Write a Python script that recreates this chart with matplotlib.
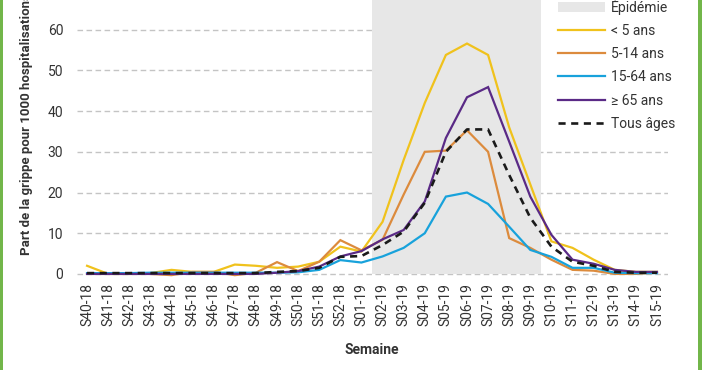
import matplotlib
matplotlib.use("Agg")
import matplotlib.pyplot as plt
from matplotlib.patches import Patch, Rectangle
from matplotlib.lines import Line2D

plt.rcParams["font.family"] = ["Roboto", "DejaVu Sans"]

# --- data ---
weeks = [f"S{w}-18" for w in range(40, 53)] + [f"S{w:02d}-19" for w in range(1, 16)]
epi_start, epi_end = "S02-19", "S09-19"

moins5 = [2.0, 0.0, 0.0, 0.2, 1.0, 0.5, 0.5, 2.3, 2.0, 1.5, 1.8, 3.0, 6.7, 5.5,
          12.8, 28.0, 42.0, 53.8, 56.6, 53.8, 36.0, 22.0, 8.0, 6.4, 3.5, 1.0, 0.5, 0.5]
ans5_14 = [0.0, 0.0, 0.0, 0.0, -0.3, 0.5, 0.5, -0.3, 0.3, 2.9, 0.7, 3.0, 8.3, 5.8,
           8.4, 19.5, 30.0, 30.3, 35.3, 30.0, 8.8, 6.4, 3.5, 1.0, 0.8, 0.0, 0.0, 0.3]
ans15_64 = [0.2, 0.2, 0.2, 0.3, 0.3, 0.3, 0.3, 0.3, 0.3, 0.3, 0.4, 1.0, 3.4, 2.8,
            4.3, 6.4, 10.0, 19.0, 20.0, 17.2, 11.6, 5.9, 4.2, 1.5, 1.5, 0.3, 0.2, 0.2]
plus65 = [0.0, 0.0, 0.0, 0.0, 0.0, 0.0, 0.0, 0.0, 0.0, 0.3, 0.7, 1.8, 4.3, 5.6,
          8.5, 10.8, 17.8, 33.4, 43.4, 45.9, 32.5, 19.0, 9.6, 3.5, 2.5, 1.0, 0.5, 0.5]
tous = [0.2, 0.2, 0.2, 0.2, 0.2, 0.2, 0.2, 0.2, 0.2, 0.5, 0.7, 1.5, 4.2, 4.4,
        7.1, 10.4, 17.5, 30.0, 35.5, 35.5, 24.3, 13.8, 6.7, 3.0, 2.0, 0.5, 0.3, 0.3]

series = [
    ("< 5 ans", moins5, "#f0c21c"),
    ("5-14 ans", ans5_14, "#dc8b3d"),
    ("15-64 ans", ans15_64, "#18a2db"),
    ("\u2265 65 ans", plus65, "#5a2a86"),
]

x = list(range(len(weeks)))

fig = plt.figure(figsize=(7.02, 3.70), dpi=100)
ax = fig.add_axes([76.5 / 702, 1 - 278 / 370, 591 / 702, 278 / 370])

ymin, ymax = -1, 67.3
i0, i1 = weeks.index(epi_start), weeks.index(epi_end)
ax.fill_between([i0 - 0.5, i1 + 0.5], 0, ymax, color="#e7e7e7", lw=0, zorder=1)

for label, vals, col in series:
    ax.plot(x, vals, color=col, lw=1.6, zorder=2, solid_joinstyle="miter")
ax.plot(x, tous, color="#1a1a1a", lw=1.9, dashes=(2.7, 2.1), zorder=3)

ax.set_xlim(-0.5, len(weeks) - 0.5)
ax.set_ylim(ymin, ymax)
ax.set_yticks(range(0, 70, 10))
ax.set_xticks(x)
ax.set_xticklabels(weeks, rotation=90)
ax.tick_params(length=0, labelsize=10, labelcolor="#333333")
ax.tick_params(axis="y", pad=9.5)
ax.tick_params(axis="x", pad=3.5)
ax.set_axisbelow(True)
ax.yaxis.grid(True, color="#c4c4c4", lw=1.0, dashes=(4, 2.5))
for s in ax.spines.values():
    s.set_visible(False)

ax.set_xlabel("Semaine", fontsize=10, fontweight="bold", color="#333333", labelpad=12)
ax.set_ylabel("Part de la grippe pour 1000 hospitalisations", fontsize=9.5,
              fontweight="bold", color="#333333")
ax.yaxis.set_label_coords(-0.074, 0.554)

handles = [Patch(facecolor="#e7e7e7", edgecolor="none")]
labels = ["\u00c9pid\u00e9mie"]
for label, vals, col in series:
    handles.append(Line2D([], [], color=col, lw=1.6))
    labels.append(label)
handles.append(Line2D([], [], color="#1a1a1a", lw=1.9, dashes=(2.7, 2.1)))
labels.append("Tous \u00e2ges")

leg = fig.legend(handles, labels, loc="upper left", bbox_to_anchor=(541 / 702, 1 + 18 / 370),
                 frameon=True, fontsize=10, handlelength=3.4, handleheight=0.75,
                 handletextpad=0.45, labelspacing=0.655, borderpad=1.2,
                 borderaxespad=0, fancybox=False)
leg.get_frame().set_facecolor("white")
leg.get_frame().set_edgecolor("none")
leg.get_frame().set_alpha(1)
for t in leg.get_texts():
    t.set_color("#333333")

# green side borders
fig.add_artist(Rectangle((0, 0), 2.5 / 702, 1, transform=fig.transFigure,
                         color="#72b64a", lw=0))
fig.add_artist(Rectangle((1 - 4 / 702, 0), 4 / 702, 1, transform=fig.transFigure,
                         color="#72b64a", lw=0))

fig.savefig("out.png", dpi=100)
